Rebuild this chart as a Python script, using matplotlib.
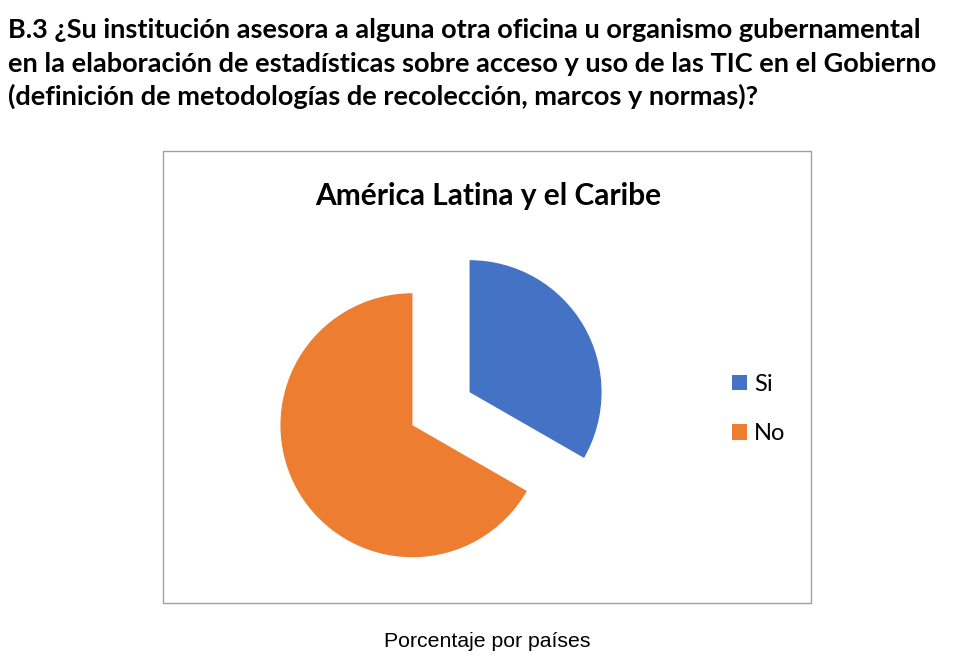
import matplotlib.pyplot as plt
from matplotlib.patches import Rectangle

# datos
labels = ["Si", "No"]
values = [33.3, 66.7]
colors = ["#4472C4", "#ED7D31"]

header_lines = [
    "B.3 ¿Su institución asesora a alguna otra oficina u organismo gubernamental",
    "en la elaboración de estadísticas sobre acceso y uso de las TIC en el Gobierno",
    "(definición de metodologías de recolección, marcos y normas)?",
]
chart_title = "América Latina y el Caribe"
caption = "Porcentaje por países"

W, H = 975, 670
fig = plt.figure(figsize=(W / 100, H / 100), dpi=100)

# encabezado
for i, line in enumerate(header_lines):
    fig.text(8 / W, 1 - (38 + i * 33.5) / H, line, ha="left", va="baseline",
             fontsize=19.5, fontweight="bold", family="Lato", color="black")

# marco del grafico
fig.patches.append(Rectangle((163 / W, 1 - 603 / H), 648 / W, 452 / H,
                             transform=fig.transFigure, fill=False,
                             edgecolor="#a0a0a0", linewidth=1.0))

fig.text(488 / W, 1 - 205 / H, chart_title, ha="center", va="baseline",
         fontsize=21.5, fontweight="bold", family="Lato", color="black")

# pastel
r_px = 132
side = 3 * r_px
cx, cy = 441, 408.7
ax = fig.add_axes([(cx - side / 2) / W, (H - cy - side / 2) / H, side / W, side / H])
wedges, _ = ax.pie(values, colors=colors, startangle=90, counterclock=False,
                   explode=[0.25, 0.25], wedgeprops=dict(linewidth=0))
ax.set_xlim(-1.5, 1.5)
ax.set_ylim(-1.5, 1.5)
ax.axis("off")

fig.legend(wedges, labels, loc="center left", bbox_to_anchor=(732 / W, 1 - 409 / H),
           frameon=False, prop=dict(family="Lato", size=17),
           handlelength=0.62, handleheight=0.62, handletextpad=0.3,
           labelspacing=1.2, borderpad=0, borderaxespad=0)

fig.text(487 / W, 1 - 647 / H, caption, ha="center", va="baseline",
         fontsize=15.3, family="Liberation Sans", color="black")

plt.savefig("out.png", dpi=100)
